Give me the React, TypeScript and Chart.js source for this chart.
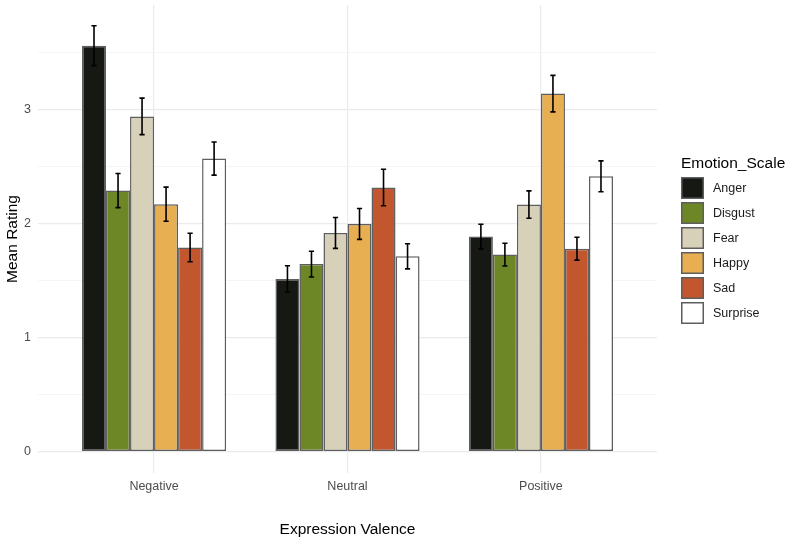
import { useEffect, useRef } from "react";
import { Chart, registerables } from "chart.js";

Chart.register(...registerables);

const valences = ["Negative", "Neutral", "Positive"];
const emotions = ["Anger", "Disgust", "Fear", "Happy", "Sad", "Surprise"];
const fillColors = ["#161813", "#6E8726", "#D8D1B9", "#E8AE52", "#C1562F", "#FFFFFF"];

const anger = [3.56, 1.515, 1.886];
const disgust = [2.29, 1.645, 1.728];
const fear = [2.94, 1.918, 2.167];
const happy = [2.17, 1.997, 3.14];
const sad = [1.79, 2.316, 1.78];
const surprise = [2.57, 1.713, 2.415];

const angerSE = [0.175, 0.115, 0.108];
const disgustSE = [0.15, 0.113, 0.1];
const fearSE = [0.16, 0.135, 0.12];
const happySE = [0.15, 0.135, 0.16];
const sadSE = [0.125, 0.16, 0.1];
const surpriseSE = [0.145, 0.11, 0.135];

const yTicks = [0, 0.5, 1, 1.5, 2, 2.5, 3, 3.5];
const xTicks = [0, 1, 2];

const means = [anger, disgust, fear, happy, sad, surprise];
const ses = [angerSE, disgustSE, fearSE, happySE, sadSE, surpriseSE];

const FONT = "'Liberation Sans', Arial, Helvetica, sans-serif";

const errorBarPlugin = {
  id: "errorBars",
  afterDatasetsDraw(chart: any) {
    const ctx = chart.ctx;
    const y = chart.scales.y;
    ctx.save();
    ctx.strokeStyle = "#000000";
    ctx.lineWidth = 1.6;
    chart.data.datasets.forEach((ds: any, i: number) => {
      const meta = chart.getDatasetMeta(i);
      meta.data.forEach((bar: any, j: number) => {
        const m = means[i][j];
        const s = ses[i][j];
        const yTop = y.getPixelForValue(m + s);
        const yBot = y.getPixelForValue(m - s);
        const x = bar.x;
        const cw = 2.6;
        ctx.beginPath();
        ctx.moveTo(x, yTop);
        ctx.lineTo(x, yBot);
        ctx.moveTo(x - cw, yTop);
        ctx.lineTo(x + cw, yTop);
        ctx.moveTo(x - cw, yBot);
        ctx.lineTo(x + cw, yBot);
        ctx.stroke();
      });
    });
    ctx.restore();
  },
};

const legendPlugin = {
  id: "ggLegend",
  afterDraw(chart: any) {
    const ctx = chart.ctx;
    const left = chart.chartArea.right + 24;
    ctx.save();
    ctx.fillStyle = "#000000";
    ctx.font = `15.5px ${FONT}`;
    ctx.textBaseline = "alphabetic";
    ctx.textAlign = "left";
    ctx.fillText("Emotion_Scale", left, 168);
    chart.data.datasets.forEach((ds: any, i: number) => {
      const cy = 188 + i * 25;
      ctx.fillStyle = ds.backgroundColor;
      ctx.fillRect(left, cy - 11, 23, 22);
      ctx.strokeStyle = "#5E5E5E";
      ctx.lineWidth = 1.5;
      ctx.strokeRect(left + 0.75, cy - 10.25, 21.5, 20.5);
      ctx.fillStyle = "#1A1A1A";
      ctx.font = `12.5px ${FONT}`;
      ctx.textBaseline = "middle";
      ctx.fillText(ds.label, left + 32, cy + 1);
    });
    ctx.restore();
  },
};

export default function App() {
  const ref = useRef<HTMLCanvasElement | null>(null);

  useEffect(() => {
    if (!ref.current) return;
    const chart = new Chart(ref.current, {
      type: "bar",
      data: {
        datasets: emotions.map((e, i) => ({
          label: e,
          data: means[i].map((v, j) => ({ x: xTicks[j], y: v })),
          backgroundColor: fillColors[i],
          borderColor: "#5E5E5E",
          borderWidth: 1.5,
          borderSkipped: false,
          categoryPercentage: 0.745,
          barPercentage: 1,
        })),
      },
      options: {
        animation: false,
        responsive: false,
        layout: { padding: { top: 5, right: 136, left: 0, bottom: 0 } },
        plugins: {
          legend: { display: false },
          tooltip: { enabled: false },
        },
        scales: {
          x: {
            type: "linear",
            min: -0.6,
            max: 2.6,
            offset: false,
            afterBuildTicks: (scale: any) => {
              scale.ticks = xTicks.map((v) => ({ value: v }));
            },
            afterFit: (scale: any) => {
              scale.height = 71;
              scale.paddingLeft = 0;
              scale.paddingRight = 0;
            },
            ticks: {
              callback: (v: any) => valences[Math.round(Number(v))] ?? "",
              color: "#4D4D4D",
              font: { family: FONT, size: 12.5 },
              padding: 6,
              maxRotation: 0,
              autoSkip: false,
            },
            grid: {
              color: "#EBEBEB",
              lineWidth: 1.2,
              drawTicks: false,
              offset: false,
            },
            border: { display: false },
            title: {
              display: true,
              text: "Expression Valence",
              color: "#000000",
              font: { family: FONT, size: 15.5 },
              padding: { top: 0, bottom: 5 },
            },
          },
          y: {
            type: "linear",
            min: -0.187,
            max: 3.917,
            afterBuildTicks: (scale: any) => {
              scale.ticks = yTicks.map((v) => ({ value: v }));
            },
            afterFit: (scale: any) => {
              scale.width = 38;
              scale.paddingTop = 0;
              scale.paddingBottom = 0;
            },
            ticks: {
              callback: (v: any) => (Number(v) % 1 === 0 ? String(v) : ""),
              color: "#4D4D4D",
              font: { family: FONT, size: 12.5 },
              padding: 7,
              autoSkip: false,
            },
            grid: {
              color: (c: any) => (c.tick && c.tick.value % 1 === 0 ? "#EBEBEB" : "#F3F3F3"),
              lineWidth: (c: any) => (c.tick && c.tick.value % 1 === 0 ? 1.2 : 0.8),
              drawTicks: false,
            },
            border: { display: false },
            title: {
              display: true,
              text: "Mean Rating",
              color: "#000000",
              font: { family: FONT, size: 15.5 },
              padding: { top: 3, bottom: 0 },
            },
          },
        },
      },
      plugins: [errorBarPlugin, legendPlugin],
    } as any);
    return () => chart.destroy();
  }, []);

  return (
    <div style={{ position: "fixed", left: 0, top: 0, width: 793, height: 544, background: "#ffffff" }}>
      <canvas ref={ref} width={793} height={544} style={{ display: "block" }} />
    </div>
  );
}
